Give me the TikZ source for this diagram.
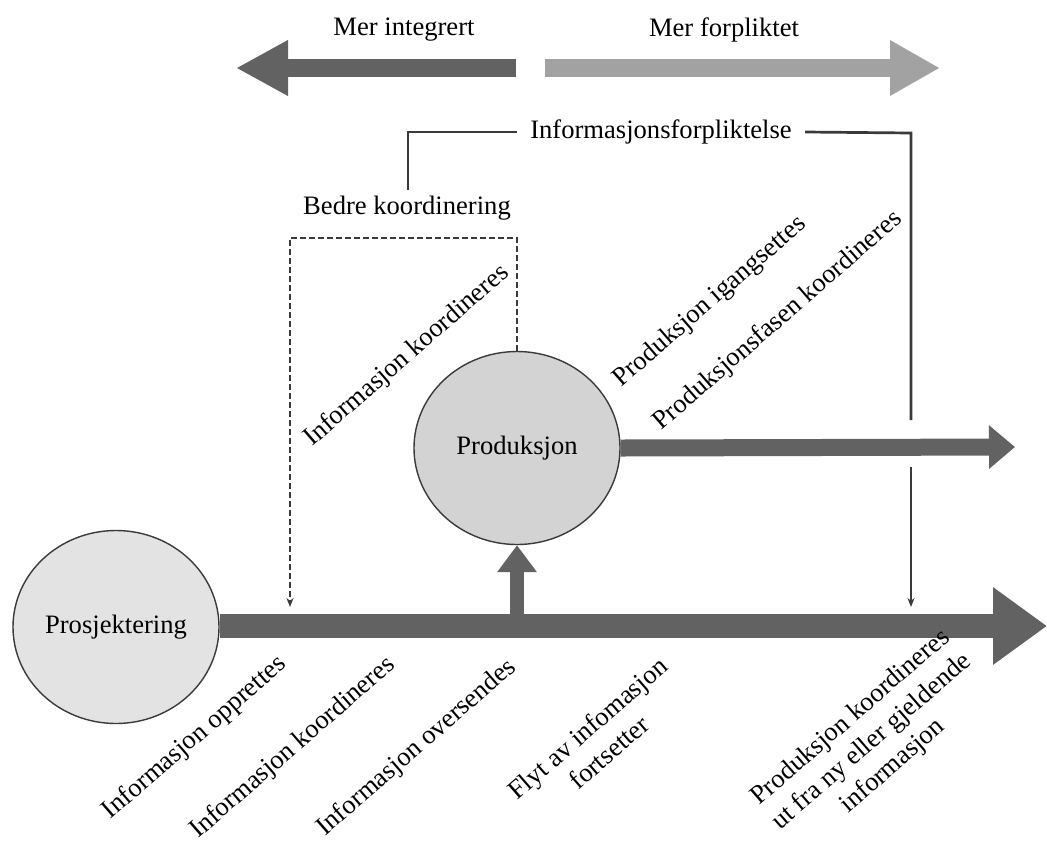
\documentclass[tikz,border=0pt]{standalone}
\usepackage{fontspec}
\setmainfont{Liberation Serif}
\usetikzlibrary{arrows.meta,shapes.geometric}
\definecolor{bar}{HTML}{626262}
\definecolor{barlight}{HTML}{A2A2A2}
\definecolor{ink}{HTML}{3A3A3A}
\definecolor{fillA}{HTML}{E3E3E3}
\definecolor{fillB}{HTML}{D3D3D3}
\begin{document}
\begin{tikzpicture}[x=0.5pt,y=-0.5pt,
  txt/.style={font=\fontsize{13.3}{16}\selectfont, inner sep=0pt, align=center},
  diag/.style={txt, rotate=41},
  phase/.style={ellipse, draw=ink, line width=0.7pt, minimum width=103pt,
                minimum height=96.5pt, inner sep=0pt, font=\fontsize{13.3}{16}\selectfont},
  link/.style={draw=ink, line width=1.35pt},
  dashlink/.style={draw=ink, line width=0.8pt, dash pattern=on 3pt off 1.5pt},
  smalltip/.style={-{Stealth[length=4.5pt,width=3.5pt]}}
]
\useasboundingbox (0,0) rectangle (1047,841);

% phases
\node[phase, fill=fillA] (prosj) at (116,627) {Prosjektering};
\node[phase, fill=fillB] (prod) at (517,448) {Produksjon};

% end points of the flows
\coordinate (mainEnd) at (1047,626);
\coordinate (prodEnd) at (1015,447);

% main information flow
\draw[bar, line width=12pt, -{Triangle[length=27pt,width=37pt]}] (prosj.east |- mainEnd) -- (mainEnd);
% hand-over to production
\draw[bar, line width=7pt, -{Triangle[length=13.5pt,width=19pt]}] (517,626) -- (prod.south);
% production flow
\draw[bar, line width=8.5pt, -{Triangle[length=13pt,width=21pt]}] (prod.east) -- (prodEnd);

% direction arrows on top
\coordinate (intL) at (236,68);
\coordinate (intR) at (516,68);
\coordinate (forL) at (545,68);
\coordinate (forR) at (940,68);
\draw[bar, line width=9pt, -{Triangle[length=26pt,width=26pt]}] (intR) -- (intL);
\draw[barlight, line width=9pt, -{Triangle[length=25pt,width=26pt]}] (forL) -- (forR);
\node[txt] (merint) at (404,30) {Mer integrert};
\node[txt] (merfor) at (724,30) {Mer forpliktet};

% commitment bracket
\node[txt, inner xsep=6.5pt] (forpl) at (661,132) {Informasjonsforpliktelse};
\node[txt] (bedre) at (407,208) {Bedre koordinering};
\coordinate (brL) at (408,190);
\coordinate (brR) at (911,133);
\coordinate (gapTop) at (911,420);
\coordinate (gapBot) at (911,467);
\coordinate (brEnd) at (911,607);
\draw[link] (brL) |- (forpl.west);
\draw[link] (forpl.east) -- (brR) -- (gapTop);
\draw[link, smalltip] (gapBot) -- (brEnd);

% coordination loop (dashed)
\coordinate (dsEnd) at (290,607);
\coordinate (dsL) at (290,238);
\coordinate (dsR) at (517,238);
\draw[dashlink, smalltip] (prod.north) -- (dsR) -- (dsL) -- (dsEnd);

% labels above the flows
\node[diag] (lkoordA) at (407,356) {Informasjon koordineres};
\node[diag] (ligang) at (710,302) {Produksjon igangsettes};
\node[diag] (lfasen) at (778,321) {Produksjonsfasen koordineres};

% labels below the main flow
\node[diag] (lopp) at (195,738) {Informasjon opprettes};
\node[diag] (lkoordB) at (293,748) {Informasjon koordineres};
\node[diag] (lovers) at (417,748) {Informasjon oversendes};
\node[diag] (lflyt) at (598,740) {Flyt av infomasjon\\fortsetter};
\node[diag] (lprodk) at (872,742) {Produksjon koordineres\\ut fra ny eller gjeldende\\informasjon};
\end{tikzpicture}
\end{document}
